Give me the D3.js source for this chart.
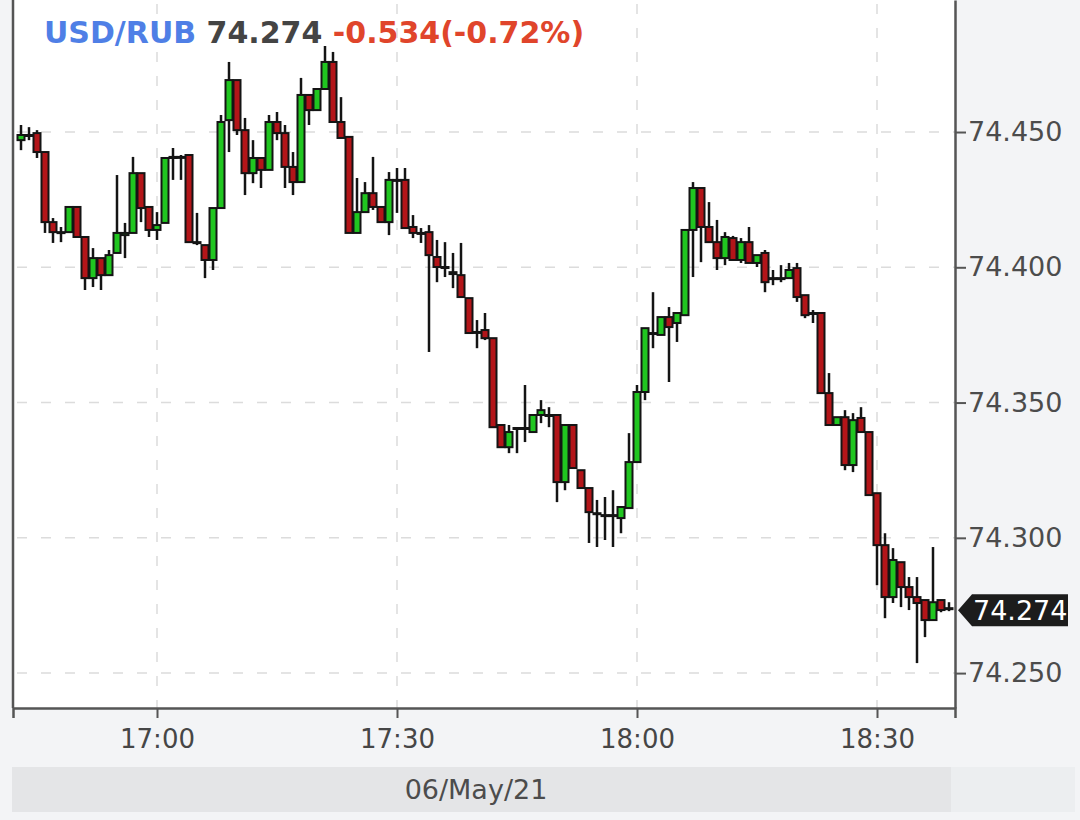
<!DOCTYPE html>
<html><head><meta charset="utf-8">
<script src="https://cdn.jsdelivr.net/npm/d3@7"></script>
<style>body{margin:0;background:#f3f4f6;} svg{display:block;}</style>
</head><body>
<svg id="chart" width="1080" height="820"></svg>
<script>
// ---- data (one-minute candles, 06/May/21) ----
const times = [
"16:43","16:44","16:45","16:46","16:47","16:48","16:49","16:50","16:51","16:52","16:53","16:54","16:55","16:56","16:57","16:58","16:59",
"17:00","17:01","17:02","17:03","17:04","17:05","17:06","17:07","17:08","17:09","17:10","17:11","17:12","17:13","17:14","17:15","17:16","17:17","17:18","17:19",
"17:20","17:21","17:22","17:23","17:24","17:25","17:26","17:27","17:28","17:29","17:30","17:31","17:32","17:33","17:34","17:35","17:36","17:37","17:38","17:39",
"17:40","17:41","17:42","17:43","17:44","17:45","17:46","17:47","17:48","17:49","17:50","17:51","17:52","17:53","17:54","17:55","17:56","17:57","17:58","17:59",
"18:00","18:01","18:02","18:03","18:04","18:05","18:06","18:07","18:08","18:09","18:10","18:11","18:12","18:13","18:14","18:15","18:16","18:17","18:18","18:19",
"18:20","18:21","18:22","18:23","18:24","18:25","18:26","18:27","18:28","18:29","18:30","18:31","18:32","18:33","18:34","18:35","18:36","18:37","18:38","18:39"
];
const openV = [
74.4470,74.4489,74.4496,74.4426,74.4167,74.4130,74.4130,74.4223,74.4112,74.3960,
74.4034,74.3971,74.4053,74.4119,74.4127,74.4348,74.4223,74.4138,74.4164,74.4404,
74.4408,74.4415,74.4093,74.4082,74.4027,74.4219,74.4544,74.4692,74.4507,74.4348,
74.4404,74.4360,74.4537,74.4496,74.4371,74.4315,74.4637,74.4581,74.4659,74.4759,
74.4537,74.4482,74.4127,74.4204,74.4274,74.4223,74.4167,74.4323,74.4323,74.4149,
74.4127,74.4130,74.4038,74.4001,74.3982,74.3971,74.3886,74.3761,74.3768,74.3738,
74.3417,74.3335,74.3406,74.3406,74.3391,74.3454,74.3454,74.3454,74.3206,74.3417,
74.3250,74.3184,74.3091,74.3084,74.3084,74.3073,74.3110,74.3280,74.3539,74.3757,
74.3750,74.3816,74.3794,74.3823,74.4138,74.4293,74.4149,74.4093,74.4034,74.4108,
74.4027,74.4093,74.4016,74.4053,74.3960,74.3960,74.3960,74.3997,74.3897,74.3831,
74.3831,74.3535,74.3417,74.3446,74.3269,74.3443,74.3391,74.3165,74.2973,74.2781,
74.2910,74.2818,74.2781,74.2770,74.2696,74.2770,74.2740
];
const highV = [
74.4526,74.4518,74.4507,74.4426,74.4182,74.4149,74.4223,74.4223,74.4112,74.4071,
74.4034,74.4064,74.4341,74.4164,74.4408,74.4348,74.4223,74.4204,74.4404,74.4441,
74.4415,74.4415,74.4201,74.4082,74.4219,74.4563,74.4759,74.4692,74.4552,74.4470,
74.4404,74.4563,74.4574,74.4526,74.4426,74.4700,74.4637,74.4659,74.4818,74.4796,
74.4629,74.4482,74.4330,74.4315,74.4408,74.4223,74.4352,74.4367,74.4367,74.4193,
74.4145,74.4156,74.4101,74.4093,74.4053,74.4090,74.3886,74.3805,74.3831,74.3738,
74.3417,74.3417,74.3406,74.3565,74.3454,74.3509,74.3483,74.3454,74.3417,74.3417,
74.3250,74.3184,74.3140,74.3151,74.3176,74.3114,74.3387,74.3565,74.3775,74.3908,
74.3816,74.3853,74.3831,74.4138,74.4315,74.4293,74.4241,74.4175,74.4130,74.4116,
74.4108,74.4149,74.4045,74.4064,74.3990,74.4008,74.4016,74.4016,74.3897,74.3842,
74.3831,74.3609,74.3446,74.3472,74.3461,74.3483,74.3391,74.3165,74.3017,74.2962,
74.2910,74.2855,74.2855,74.2770,74.2966,74.2770,74.2762
];
const lowV = [
74.4433,74.4470,74.4404,74.4127,74.4090,74.4093,74.4130,74.4112,74.3916,74.3927,
74.3916,74.3971,74.4053,74.4034,74.4127,74.4167,74.4112,74.4101,74.4164,74.4323,
74.4323,74.4093,74.4082,74.3960,74.3990,74.4219,74.4426,74.4489,74.4267,74.4311,
74.4293,74.4360,74.4470,74.4293,74.4267,74.4315,74.4526,74.4581,74.4659,74.4537,
74.4478,74.4127,74.4127,74.4204,74.4212,74.4167,74.4119,74.4201,74.4145,74.4108,
74.4090,74.3687,74.3945,74.3964,74.3923,74.3890,74.3757,74.3701,74.3731,74.3409,
74.3335,74.3313,74.3313,74.3354,74.3391,74.3424,74.3409,74.3132,74.3176,74.3258,
74.3184,74.2981,74.2966,74.2992,74.2966,74.3017,74.3110,74.3280,74.3509,74.3701,
74.3750,74.3576,74.3724,74.3823,74.3964,74.4019,74.4093,74.3990,74.4008,74.4027,
74.4016,74.4016,74.4001,74.3908,74.3934,74.3945,74.3960,74.3872,74.3812,74.3794,
74.3535,74.3417,74.3417,74.3250,74.3243,74.3391,74.3158,74.2825,74.2703,74.2759,
74.2744,74.2733,74.2537,74.2633,74.2696,74.2725,74.2729
];
const closeV = [
74.4489,74.4489,74.4426,74.4167,74.4130,74.4130,74.4223,74.4112,74.3960,74.4034,
74.3971,74.4045,74.4127,74.4127,74.4348,74.4219,74.4138,74.4156,74.4404,74.4408,
74.4408,74.4093,74.4090,74.4027,74.4219,74.4537,74.4692,74.4507,74.4348,74.4404,
74.4360,74.4537,74.4496,74.4371,74.4315,74.4637,74.4581,74.4659,74.4759,74.4537,
74.4478,74.4127,74.4204,74.4274,74.4223,74.4167,74.4323,74.4323,74.4145,74.4127,
74.4127,74.4045,74.4001,74.4001,74.3975,74.3890,74.3757,74.3761,74.3738,74.3409,
74.3335,74.3391,74.3406,74.3406,74.3454,74.3472,74.3454,74.3206,74.3417,74.3258,
74.3184,74.3095,74.3091,74.3084,74.3084,74.3114,74.3280,74.3539,74.3775,74.3757,
74.3816,74.3779,74.3831,74.4138,74.4293,74.4149,74.4093,74.4034,74.4112,74.4027,
74.4093,74.4016,74.4045,74.3945,74.3960,74.3960,74.3990,74.3890,74.3823,74.3831,
74.3535,74.3417,74.3446,74.3269,74.3435,74.3391,74.3158,74.2973,74.2781,74.2918,
74.2818,74.2781,74.2759,74.2696,74.2762,74.2733,74.2740
];
const yTicks = [74.250, 74.300, 74.350, 74.400, 74.450];
const xTickLabels = ["17:00", "17:30", "18:00", "18:30"];
const symbol = "USD/RUB";
const lastPrice = "74.274";
const changeText = "-0.534(-0.72%)";
const dateLabel = "06/May/21";

// ---- drawing ----
const parse = s => { const [h, m] = s.split(":").map(Number); return new Date(2021, 4, 6, h, m); };
const data = times.map((t, i) => ({ t: parse(t), o: openV[i], h: highV[i], l: lowV[i], c: closeV[i] }));

const svg = d3.select("#chart");
const L = 13, R = 955, T = 0, B = 708;
const x = d3.scaleTime()
  .domain([new Date(2021, 4, 6, 16, 42, 0), new Date(2021, 4, 6, 18, 39, 45)])
  .range([L, R]);
const y = d3.scaleLinear().domain([74.2371, 74.4988]).range([B, T]);

// backgrounds
svg.append("rect").attr("width", 1080).attr("height", 820).attr("fill", "#f3f4f6");
svg.append("rect").attr("x", L).attr("y", T).attr("width", R - L).attr("height", B - T).attr("fill", "#ffffff");

// grid
const grid = svg.append("g").attr("stroke", "#dcdcdc").attr("stroke-width", 1.5).attr("stroke-dasharray", "10,14");
grid.selectAll("line.h").data(yTicks).join("line").attr("class", "h")
  .attr("x1", L + 4).attr("x2", R).attr("y1", d => y(d)).attr("y2", d => y(d));
grid.selectAll("line.v").data(xTickLabels.map(parse)).join("line").attr("class", "v")
  .attr("x1", d => x(d)).attr("x2", d => x(d)).attr("y1", T + 4).attr("y2", B);

// candles
const bw = 7;
const cg = svg.append("g");
cg.selectAll("line.wick").data(data).join("line").attr("class", "wick")
  .attr("x1", d => x(d.t)).attr("x2", d => x(d.t))
  .attr("y1", d => y(d.h)).attr("y2", d => y(d.l))
  .attr("stroke", "#141414").attr("stroke-width", 2.5);
cg.selectAll("rect.body").data(data).join("rect").attr("class", "body")
  .attr("x", d => x(d.t) - bw / 2).attr("width", bw)
  .attr("y", d => y(Math.max(d.o, d.c)))
  .attr("height", d => Math.max(1, Math.abs(y(d.o) - y(d.c))))
  .attr("fill", d => d.c >= d.o ? "#20c620" : "#b31519")
  .attr("stroke", "#141414").attr("stroke-width", 2);

// left border
svg.append("line").attr("x1", L).attr("x2", L).attr("y1", T).attr("y2", B)
  .attr("stroke", "#555").attr("stroke-width", 2.5);

// right axis
const ya = svg.append("g").attr("transform", `translate(${R},0)`)
  .call(d3.axisRight(y).tickValues(yTicks).tickFormat(d3.format(".3f"))
    .tickSize(11).tickSizeOuter(0).tickPadding(2));
ya.attr("font-family", "DejaVu Sans").attr("font-size", 27);
ya.select(".domain").attr("stroke", "#555").attr("stroke-width", 2.5);
ya.selectAll(".tick line").attr("stroke", "#555").attr("stroke-width", 2);
ya.selectAll(".tick text").attr("fill", "#4c4c4c");

// bottom axis
const xa = svg.append("g").attr("transform", `translate(0,${B})`)
  .call(d3.axisBottom(x).tickValues(xTickLabels.map(parse)).tickFormat((d, i) => xTickLabels[i])
    .tickSize(10).tickSizeOuter(10).tickPadding(12));
xa.attr("font-family", "DejaVu Sans").attr("font-size", 26);
xa.select(".domain").attr("stroke", "#555").attr("stroke-width", 2.5);
xa.selectAll(".tick line").attr("stroke", "#555").attr("stroke-width", 2);
xa.selectAll(".tick text").attr("fill", "#464646");

// date bar
svg.append("rect").attr("x", 12).attr("y", 767).attr("width", 939).attr("height", 45).attr("fill", "#e4e5e7");
svg.append("rect").attr("x", 951).attr("y", 767).attr("width", 124).attr("height", 45).attr("fill", "#eceef0");
svg.append("text").attr("x", 476).attr("y", 799).attr("text-anchor", "middle")
  .attr("fill", "#4c4c4c").style("font", "27px 'DejaVu Sans'").text(dateLabel);

// title
const title = svg.append("text").attr("x", 44).attr("y", 43)
  .style("font", "bold 30px 'DejaVu Sans'").style("white-space", "pre");
title.append("tspan").attr("fill", "#4f7fe6").text(symbol);
title.append("tspan").attr("fill", "#444444").text(" " + lastPrice);
title.append("tspan").attr("fill", "#e0452b").text(" " + changeText);

// last price tag
const yl = y(closeV[closeV.length - 1]) + 2;
svg.append("path")
  .attr("d", `M${R + 3},${yl} L${R + 17},${yl - 16} H${R + 113} V${yl + 16} H${R + 17} Z`)
  .attr("fill", "#1c1c1c");
svg.append("text").attr("x", R + 18).attr("y", yl + 10).attr("fill", "#ffffff")
  .style("font", "27px 'DejaVu Sans'").text(lastPrice);
</script>
</body></html>
